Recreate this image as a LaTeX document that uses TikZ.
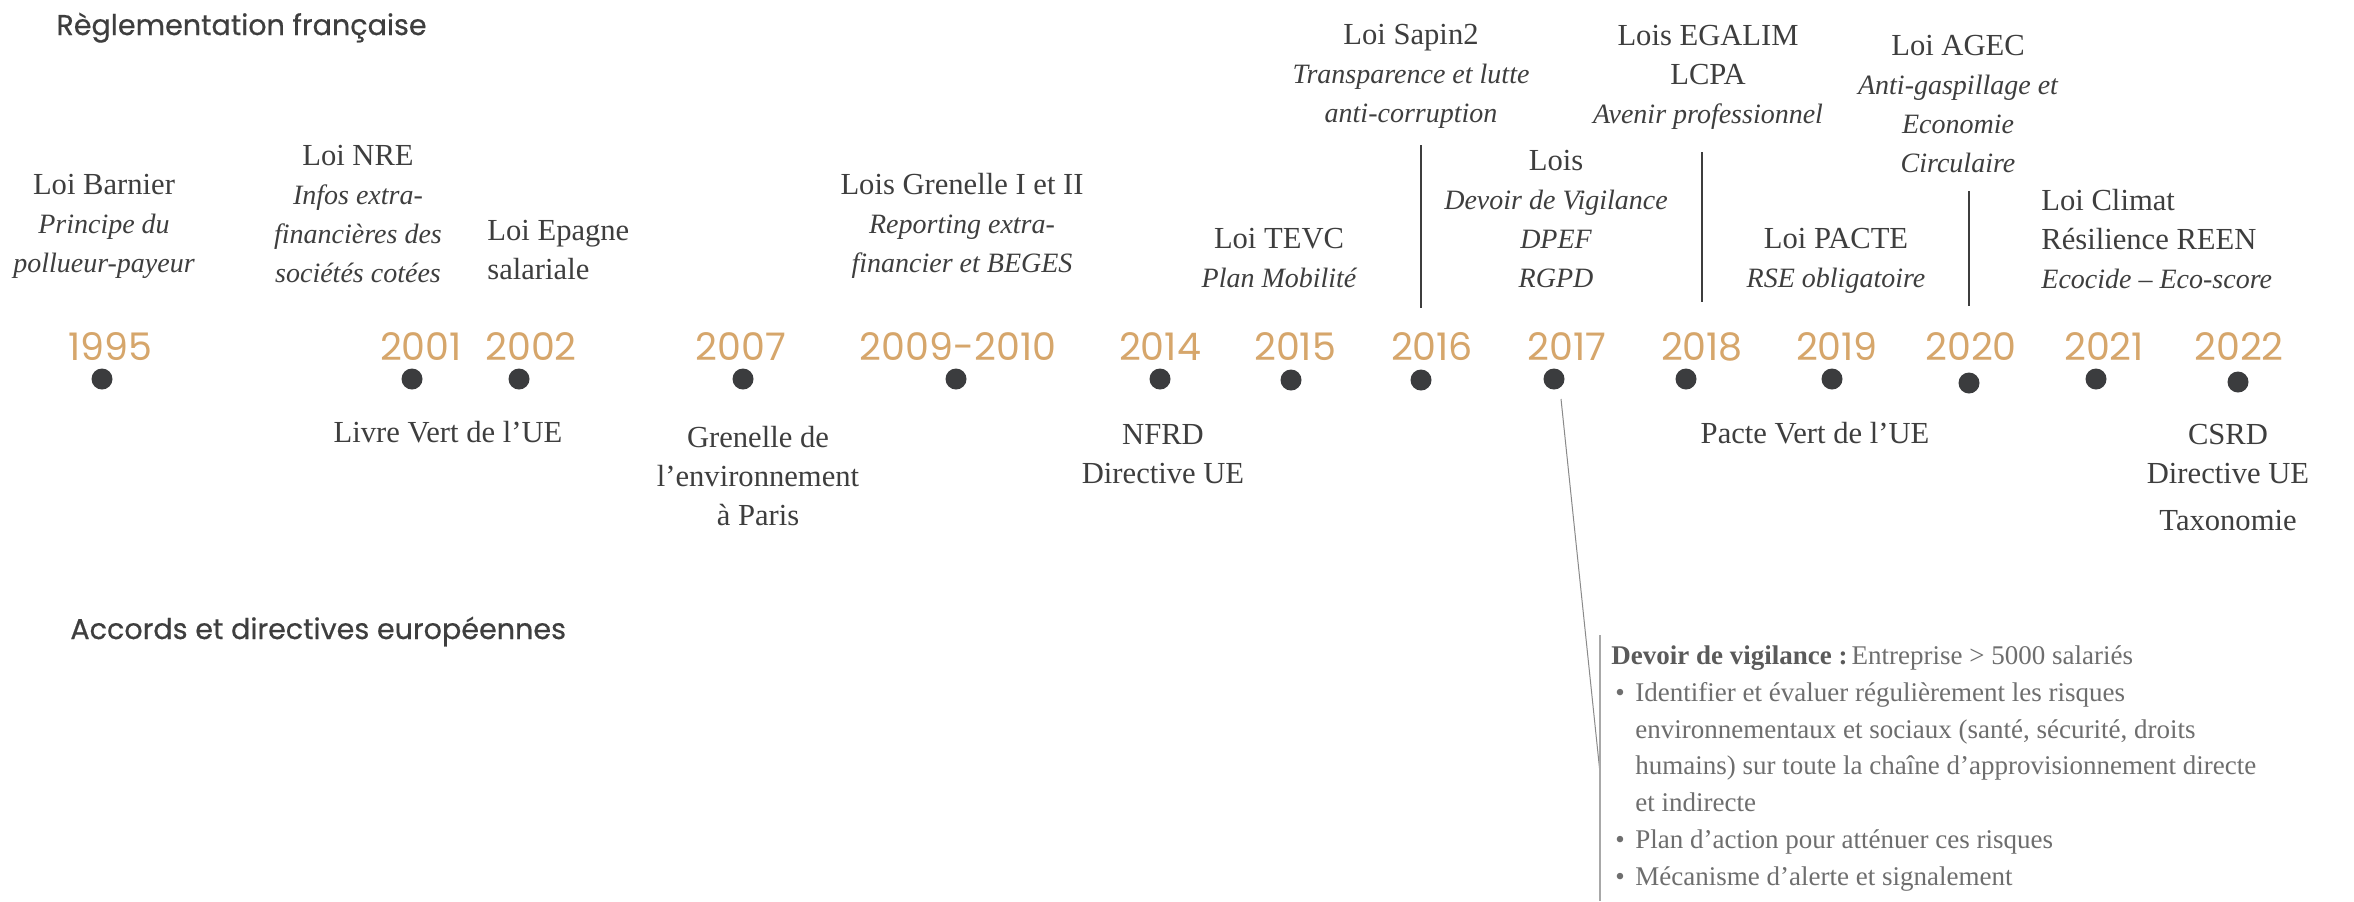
\documentclass[tikz,border=0pt]{standalone}
\usepackage{fontspec}
\setmainfont{Liberation Serif}
\newfontfamily\geo{Poppins}
\newfontfamily\geot{Poppins}[FakeBold=0.5]
\usetikzlibrary{backgrounds}
\definecolor{ink}{HTML}{3E3E3E}
\definecolor{gold}{HTML}{D6A66B}
\definecolor{dotc}{HTML}{3B3C3E}
\definecolor{linec}{HTML}{5C5C5C}
\definecolor{boxink}{HTML}{6E6E6E}
\definecolor{boxhead}{HTML}{5A5A5A}
\definecolor{thinc}{HTML}{8A8A8A}
\definecolor{barc}{HTML}{A8A8A8}
\newcommand{\mkit}[1]{{\fontsize{14}{19.5}\selectfont\itshape #1}}
\newcommand{\bul}{\makebox[12pt][l]{\hspace{2pt}•}}
\newcommand{\ind}{\hspace*{12pt}}
\begin{document}
\begin{tikzpicture}[x=0.5pt,y=-0.5pt,
  lbl/.style={font=\fontsize{15.3}{19.5}\selectfont, text=ink, align=center, anchor=base, inner sep=0pt},
  lblL/.style={lbl, align=left, anchor=base west},
  yr/.style={font=\geo\fontsize{19}{20}\selectfont, text=gold, anchor=base, inner sep=0pt},
  ttl/.style={font=\geot\fontsize{14.3}{16}\selectfont, text=ink, anchor=base west, inner sep=0pt},
  evt/.style={circle, fill=dotc, minimum size=10.5pt, inner sep=0pt},
  tl/.style={draw=linec, line width=0.8pt},
  divider/.style={draw=ink, line width=0.9pt},
  slant/.style={draw=thinc, line width=0.5pt},
  bar/.style={draw=barc, line width=0.7pt},
  boxtxt/.style={font=\fontsize{13.5}{18.35}\selectfont, text=boxink, align=left, anchor=base west, inner sep=0pt}
]
\useasboundingbox[fill=white] (0,0) rectangle (2354,901);

% titles
\node[ttl] (treg) at (56,35) {Règlementation française};
\node[ttl] (tacc) at (70,639) {Accords et directives européennes};

% dots
\node[evt] (d1995) at (102,379) {};
\node[evt] (d2001) at (412,379) {};
\node[evt] (d2002) at (519,379) {};
\node[evt] (d2007) at (743,379) {};
\node[evt] (d2009) at (956,379) {};
\node[evt] (d2014) at (1160,379) {};
\node[evt] (d2015) at (1291,380) {};
\node[evt] (d2016) at (1421,380) {};
\node[evt] (d2017) at (1554,379) {};
\node[evt] (d2018) at (1686,379) {};
\node[evt] (d2019) at (1832,379) {};
\node[evt] (d2020) at (1969,383) {};
\node[evt] (d2021) at (2096,379) {};
\node[evt] (d2022) at (2238,382) {};
\coordinate (tlend) at (2354,379);
\begin{pgfonlayer}{background}
\draw[tl] (d1995.center) -- (tlend);
\end{pgfonlayer}

% years
\node[yr] (y1995) at (110,360) {1995};
\node[yr] (y2001) at (421,360) {2001};
\node[yr] (y2002) at (531,360) {2002};
\node[yr] (y2007) at (741,360) {2007};
\node[yr] (y2009) at (958,360) {2009-2010};
\node[yr] (y2014) at (1160,360) {2014};
\node[yr] (y2015) at (1295,360) {2015};
\node[yr] (y2016) at (1432,360) {2016};
\node[yr] (y2017) at (1567,360) {2017};
\node[yr] (y2018) at (1702,360) {2018};
\node[yr] (y2019) at (1837,360) {2019};
\node[yr] (y2020) at (1971,360) {2020};
\node[yr] (y2021) at (2104,360) {2021};
\node[yr] (y2022) at (2239,360) {2022};

% French laws (above) -- positioned at the baseline of the last line
\node[lbl] (barnier) at (104,272) {Loi Barnier\\ \mkit{Principe du}\\ \mkit{pollueur-payeur}};
\node[lbl] (nre) at (358,282) {Loi NRE\\ \mkit{Infos extra-}\\ \mkit{financières des}\\ \mkit{sociétés cotées}};
\node[lblL] (epagne) at (487,279) {Loi Epagne\\ salariale};
\node[lbl] (grenelle) at (962,272) {Lois Grenelle I et II\\ \mkit{Reporting extra-}\\ \mkit{financier et BEGES}};
\node[lbl] (tevc) at (1279,287) {Loi TEVC\\ \mkit{Plan Mobilité}};
\node[lbl] (sapin) at (1411,122) {Loi Sapin2\\ \mkit{Transparence et lutte}\\ \mkit{anti-corruption}};
\node[lbl] (lois17) at (1556,287) {Lois\\ \mkit{Devoir de Vigilance}\\ \mkit{DPEF}\\ \mkit{RGPD}};
\node[lbl] (egalim) at (1708,123) {Lois EGALIM\\ LCPA\\ \mkit{Avenir professionnel}};
\node[lbl] (pacte) at (1836,287) {Loi PACTE\\ \mkit{RSE obligatoire}};
\node[lbl] (agec) at (1958,172) {Loi AGEC\\ \mkit{Anti-gaspillage et}\\ \mkit{Economie}\\ \mkit{Circulaire}};
\node[lblL] (climat) at (2041,288) {Loi Climat\\ Résilience REEN\\ \mkit{Ecocide – Eco-score}};

% dividers
\coordinate (dv16a) at (1421,145); \coordinate (dv16b) at (1421,308);
\coordinate (dv18a) at (1702,152); \coordinate (dv18b) at (1702,302);
\coordinate (dv20a) at (1969,191); \coordinate (dv20b) at (1969,306);
\draw[divider] (dv16a) -- (dv16b);
\draw[divider] (dv18a) -- (dv18b);
\draw[divider] (dv20a) -- (dv20b);

% European (below)
\node[lbl] (livre) at (448,442) {Livre Vert de l’UE};
\node[lbl] (grenv) at (758,525) {Grenelle de\\ l’environnement\\ à Paris};
\node[lbl] (nfrd) at (1163,483) {NFRD\\ Directive UE};
\node[lbl] (pvert) at (1815,443) {Pacte Vert de l’UE};
\node[lbl] (csrd) at (2228,530) {CSRD\\ Directive UE\\[4pt] Taxonomie};

% vigilance detail
\coordinate (vtop) at (1561,399);
\coordinate (vjoin) at (1600,773);
\coordinate (vbar0) at (1600,635);
\coordinate (vbar1) at (1600,901);
\draw[slant] (vtop) -- (vjoin);
\draw[bar] (vbar0) -- (vbar1);
\node[boxtxt] (vig) at (1611,885) {\textcolor{boxhead}{\textbf{Devoir de vigilance :}}\hspace{2pt}Entreprise > 5000 salariés\\
\bul Identifier et évaluer régulièrement les risques\\
\ind environnementaux et sociaux (santé, sécurité, droits\\
\ind humains) sur toute la chaîne d’approvisionnement directe\\
\ind et indirecte\\
\bul Plan d’action pour atténuer ces risques\\
\bul Mécanisme d’alerte et signalement};
\end{tikzpicture}
\end{document}
